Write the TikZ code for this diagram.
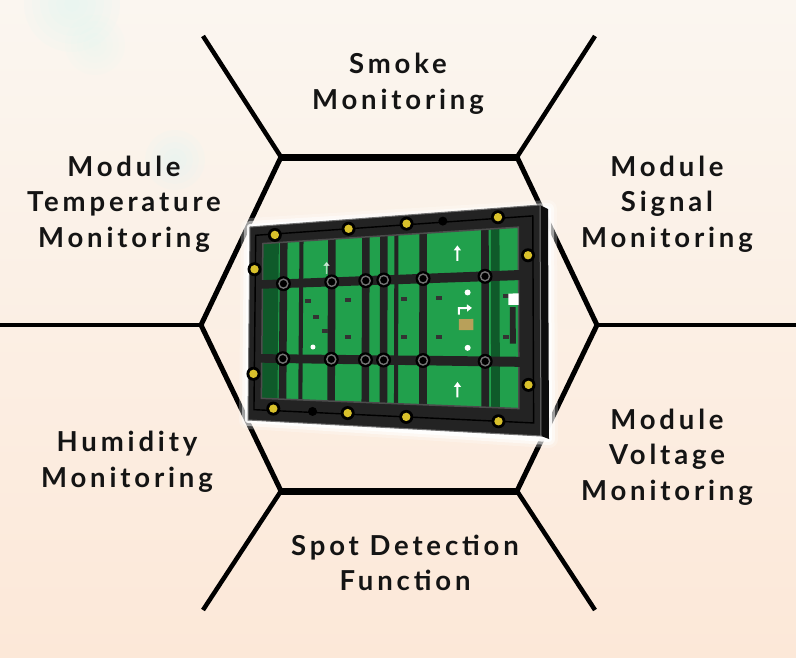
\documentclass[tikz,border=0pt]{standalone}
\usepackage{fontspec}
\setmainfont{Lato}[LetterSpace=14]
\usetikzlibrary{arrows.meta}
\definecolor{bgtop}{HTML}{FBF6F0}
\definecolor{bgbot}{HTML}{FCE8D8}
\definecolor{frame}{HTML}{232323}
\definecolor{pcb}{HTML}{21A04C}
\definecolor{pcbdark}{HTML}{0F5A2A}
\definecolor{screw}{HTML}{D9C12B}
\definecolor{gold}{HTML}{B8A05A}
\definecolor{haze}{HTML}{DDF5F7}
%% point (u,v) on the module face, bilinear in its four corners
\newcommand{\pq}[2]{({(1-(#2))*(250+290*(#1))+(#2)*(248+293*(#1))},{(1-(#2))*(227-22*(#1))+(#2)*(420+16*(#1))})}
\begin{document}
\begin{tikzpicture}[x=1pt,y=-1pt,
  hexline/.style={line width=5pt,line join=round},
  hexflat/.style={line width=7pt},
  spoke/.style={line width=4.5pt},
  lbl/.style={font=\bfseries\fontsize{27.5}{35.5}\selectfont,align=center,text=black!92},
  rib/.style={fill=frame},
  screwhead/.style={fill=screw}]
%%Background
\useasboundingbox (0,0) rectangle (796,657);
\shade[top color=bgtop,bottom color=bgbot] (0,0) rectangle (796,657);
\foreach \r in {8,16,...,48} \fill[haze,opacity=.1] (72,4) circle[radius=\r pt];
\foreach \r in {6,12,...,30} \fill[haze,opacity=.1] (175,160) circle[radius=\r pt];
\foreach \r in {6,12,...,30} \fill[haze,opacity=.07] (95,45) circle[radius=\r pt];

%%Hexagon
\coordinate (hA) at (281,157);
\coordinate (hB) at (517,157);
\coordinate (hC) at (597,325);
\coordinate (hD) at (517,491);
\coordinate (hE) at (281,491);
\coordinate (hF) at (201,325);
\coordinate (oA) at (203,36);
\coordinate (oB) at (595,36);
\coordinate (oC) at (796,325);
\coordinate (oD) at (595,610);
\coordinate (oE) at (203,610);
\coordinate (oF) at (0,325);
\draw[hexline] (hA) -- (hB) -- (hC) -- (hD) -- (hE) -- (hF) -- cycle;
\draw[hexflat] (hA) -- (hB);
\draw[hexflat] (hE) -- (hD);
\foreach \p in {A,B,C,D,E,F} \draw[spoke] (h\p) -- (o\p);

%%Panel
\foreach \w/\o in {18/.25,12/.5,6/.9}
  \draw[white,line width=\w pt,opacity=\o,line join=round] \pq{0}{0} -- (548,209) -- (549,439) -- \pq{0}{1} -- cycle;
\fill[white] \pq{0}{0} -- (548,209) -- (549,439) -- \pq{0}{1} -- cycle;
\fill[black!95] \pq{1}{0} -- (548,209) -- (549,439) -- \pq{1}{1} -- cycle;
\fill[frame] \pq{0}{0} -- \pq{1}{0} -- \pq{1}{1} -- \pq{0}{1} -- cycle;
\draw[black!55,line width=1pt] \pq{0}{0} -- \pq{1}{0} -- \pq{1}{1} -- \pq{0}{1} -- cycle;
\draw[black,line width=1.4pt] \pq{.02}{.045} -- \pq{.975}{.045} -- \pq{.975}{.945} -- \pq{.02}{.945} -- cycle;
%%Boards
\fill[pcb] \pq{.045}{.09} -- \pq{.925}{.09} -- \pq{.925}{.885} -- \pq{.045}{.885} -- cycle;
\fill[pcbdark] \pq{.045}{.09} -- \pq{.1}{.09} -- \pq{.1}{.885} -- \pq{.045}{.885} -- cycle;
\fill[pcbdark] \pq{.83}{.09} -- \pq{.86}{.09} -- \pq{.86}{.885} -- \pq{.83}{.885} -- cycle;
\foreach \u/\w in {.117/.013,.178/.007,.283/.013,.40/.013,.462/.013,.505/.007,.597/.013,.81/.013}
  \fill[rib] \pq{\u-\w}{.09} -- \pq{\u+\w}{.09} -- \pq{\u+\w}{.885} -- \pq{\u-\w}{.885} -- cycle;
\draw[black!70,line width=1.5pt] \pq{.045}{.09} -- \pq{.925}{.09} -- \pq{.925}{.885} -- \pq{.045}{.885} -- cycle;
\foreach \v in {.30,.68}
  \fill[rib] \pq{.03}{\v-.022} -- \pq{.95}{\v-.022} -- \pq{.95}{\v+.022} -- \pq{.03}{\v+.022} -- cycle;
\foreach \u in {.117,.283,.40,.462,.597,.81}
  \foreach \v in {.30,.68} {
    \fill[black] \pq{\u}{\v} circle[radius=7.5pt];
    \draw[black!55,line width=1.4pt] \pq{\u}{\v} circle[radius=4.5pt];
  }
%%Parts
\foreach \u/\v in {.19/.40,.22/.48,.25/.55,.33/.40,.33/.58,.52/.40,.52/.58,.64/.40,.64/.58,.87/.40,.87/.58}
  \fill[black!80] \pq{\u}{\v} rectangle ++(6,-4);
\fill[gold] \pq{.72}{.49} -- \pq{.77}{.49} -- \pq{.77}{.54} -- \pq{.72}{.54} -- cycle;
\fill[white] \pq{.75}{.37} circle[radius=3pt];
\fill[white] \pq{.75}{.62} circle[radius=3pt];
\fill[white] \pq{.22}{.62} circle[radius=2.5pt];
\fill[white] \pq{.89}{.38} -- \pq{.925}{.38} -- \pq{.925}{.43} -- \pq{.89}{.43} -- cycle;
\fill[black!85] \pq{.895}{.44} -- \pq{.915}{.44} -- \pq{.915}{.6} -- \pq{.895}{.6} -- cycle;
\foreach \v in {.19,.81}
  \draw[white,line width=2pt,-{Triangle[length=5pt,width=7pt]}] \pq{.715}{\v+.035} -- \pq{.715}{\v-.035};
\draw[white,opacity=.6,line width=1.5pt,-{Triangle[length=4pt,width=6pt]}] \pq{.265}{.26} -- \pq{.265}{.2};
\draw[white,line width=2pt,-{Triangle[length=5pt,width=7pt]}] \pq{.72}{.47} -- \pq{.72}{.44} -- \pq{.765}{.44};
%%Screws
\foreach \u/\v in {.086/.05,.34/.045,.54/.04,.855/.04,.017/.22,.017/.76,.958/.215,.958/.78,.086/.935,.34/.94,.54/.945,.855/.945} {
  \fill[black] \pq{\u}{\v} circle[radius=7pt];
  \fill[screwhead] \pq{\u}{\v} circle[radius=4.2pt];
}
\foreach \u/\v in {.665/.04,.22/.94}
  \fill[black] \pq{\u}{\v} circle[radius=4.5pt];

%%Label
\node[lbl] (smoke) at (398,84) {Smoke\\Monitoring};
\node[lbl] (temp) at (124,204) {Module\\Temperature\\Monitoring};
\node[lbl] (signal) at (667,204) {Module\\Signal\\Monitoring};
\node[lbl] (humid) at (127,462) {Humidity\\Monitoring};
\node[lbl] (volt) at (667,457) {Module\\Voltage\\Monitoring};
\node[lbl] (spot) at (405,563) {Spot Detection\\Function};
\end{tikzpicture}
\end{document}
